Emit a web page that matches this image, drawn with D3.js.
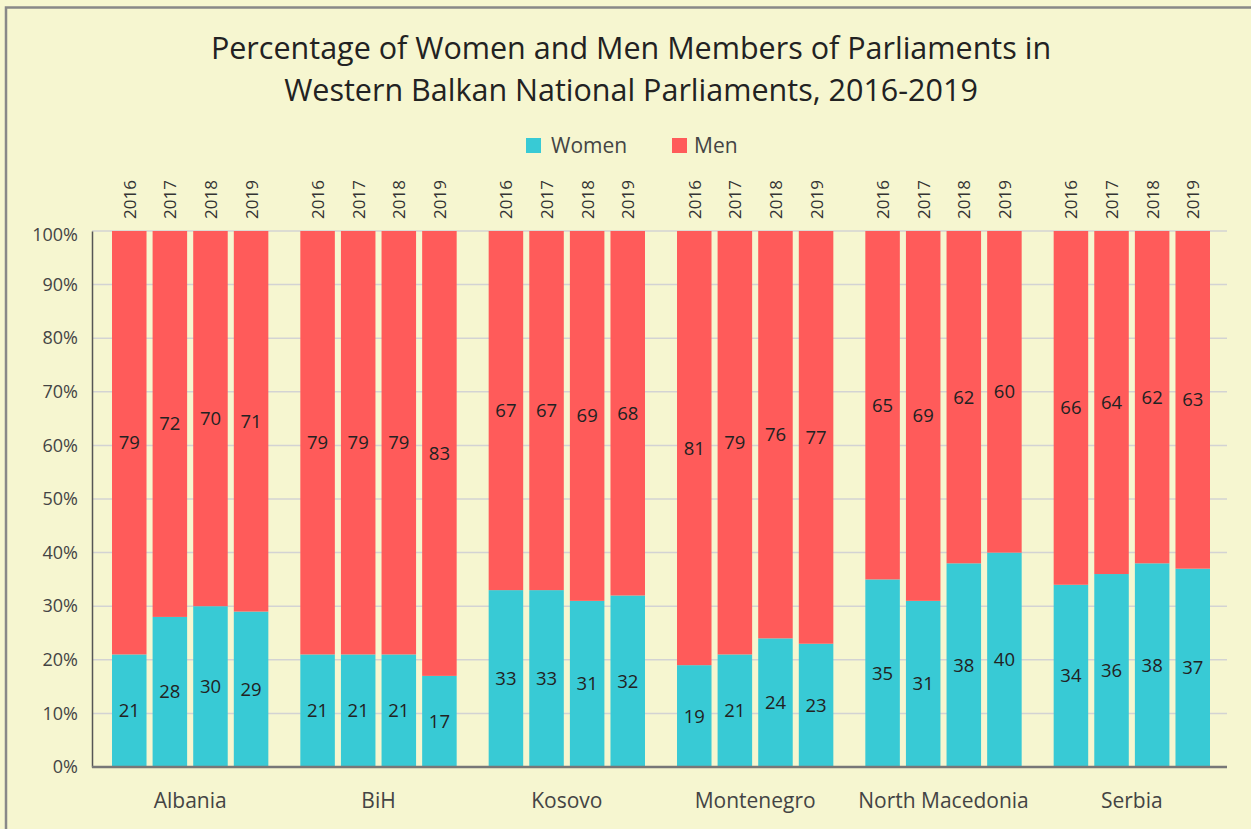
<!DOCTYPE html>
<html><head><meta charset="utf-8">
<script src="https://cdn.jsdelivr.net/npm/d3@7"></script>
<style>
html,body{margin:0;padding:0;background:#f6f6d0;}
svg{display:block;font-family:"Open Sans",sans-serif;}
</style></head>
<body>
<svg id="c" width="1251" height="829"></svg>
<script>
const countries = ["Albania","BiH","Kosovo","Montenegro","North Macedonia","Serbia"];
const years = ["2016","2017","2018","2019"];
const women = [
  [21,28,30,29],
  [21,21,21,17],
  [33,33,31,32],
  [19,21,24,23],
  [35,31,38,40],
  [34,36,38,37]
];
const men = [
  [79,72,70,71],
  [79,79,79,83],
  [67,67,69,68],
  [81,79,76,77],
  [65,69,62,60],
  [66,64,62,63]
];
const yTicks = [0,10,20,30,40,50,60,70,80,90,100];
const titleLines = ["Percentage of Women and Men Members of Parliaments in","Western Balkan National Parliaments, 2016-2019"];
const seriesNames = ["Women","Men"];
const colors = {Women:"#38cad5", Men:"#ff5b5a"};

(function(){
const svg = d3.select("#c");
svg.append("rect").attr("x",6).attr("y",7.5).attr("width",1300).attr("height",900)
  .attr("fill","#f6f6d0").attr("stroke","#888").attr("stroke-width",2.5);

const pL=92, pR=1227, pT=231, pB=767;
const x0 = d3.scaleBand().domain(countries).range([96,1226]).padding(0);
const x1 = d3.scaleBand().domain(years).range([16, x0.bandwidth()-16]).paddingInner(0.15).paddingOuter(0);
const y = d3.scaleLinear().domain([0,100]).range([pB, pT]);

svg.append("g").selectAll("text").data(titleLines).join("text")
  .attr("x",631).attr("y",(d,i)=>59+i*42).attr("text-anchor","middle")
  .attr("font-size",30.5).attr("fill","#222").text(d=>d);

const leg = svg.append("g");
const legX = [526,672], legTX = [551,694];
seriesNames.forEach((s,i)=>{
  leg.append("rect").attr("x",legX[i]).attr("y",138).attr("width",15).attr("height",15).attr("fill",colors[s]);
  leg.append("text").attr("x",legTX[i]).attr("y",152.5).attr("font-size",21).attr("fill","#444").text(s);
});

svg.append("g").selectAll("line").data(yTicks.filter(t=>t>0)).join("line")
  .attr("x1",pL).attr("x2",pR).attr("y1",d=>y(d)).attr("y2",d=>y(d))
  .attr("stroke","#d3d3d3").attr("stroke-width",1.5);

const ya = svg.append("g").attr("transform",`translate(${pL},0)`)
  .call(d3.axisLeft(y).tickValues(yTicks).tickFormat(d=>d+"%").tickSize(0).tickPadding(14));
ya.select(".domain").attr("stroke","#555").attr("stroke-width",1.5);
ya.selectAll("text").attr("font-size",18).attr("fill","#444").attr("font-family","Open Sans, sans-serif")
  .attr("dy",d=>d===100?"0.55em":"0.32em");

const groups = svg.append("g").selectAll("g").data(countries).join("g")
  .attr("transform",d=>`translate(${x0(d)},0)`);
groups.each(function(c,ci){
  const g = d3.select(this);
  years.forEach((yr,yi)=>{
    const w = women[ci][yi], m = men[ci][yi];
    const bx = x1(yr), bw = x1.bandwidth();
    g.append("rect").attr("x",bx).attr("width",bw).attr("y",y(w)).attr("height",y(0)-y(w)).attr("fill",colors.Women);
    g.append("rect").attr("x",bx).attr("width",bw).attr("y",y(w+m)).attr("height",y(w)-y(w+m)).attr("fill",colors.Men);
    g.append("text").attr("x",bx+bw/2).attr("y",y(w/2)).attr("dy","0.35em").attr("text-anchor","middle")
      .attr("font-size",18.5).attr("fill","#222").text(w);
    g.append("text").attr("x",bx+bw/2).attr("y",y(w+m/2)).attr("dy","0.35em").attr("text-anchor","middle")
      .attr("font-size",18.5).attr("fill","#222").text(m);
    g.append("text").attr("transform",`translate(${bx+bw/2+6.5},219) rotate(-90)`)
      .attr("font-size",17).attr("fill","#333").text(yr);
  });
});

const xa = svg.append("g").attr("transform",`translate(0,${pB})`)
  .call(d3.axisBottom(x0).tickSize(0).tickPadding(26));
xa.select(".domain").attr("d",`M${pL},0H${pR}`).attr("stroke","#777").attr("stroke-width",2.5);
xa.selectAll("text").attr("font-size",21).attr("fill","#444").attr("font-family","Open Sans, sans-serif");
})();
</script>
</body></html>
